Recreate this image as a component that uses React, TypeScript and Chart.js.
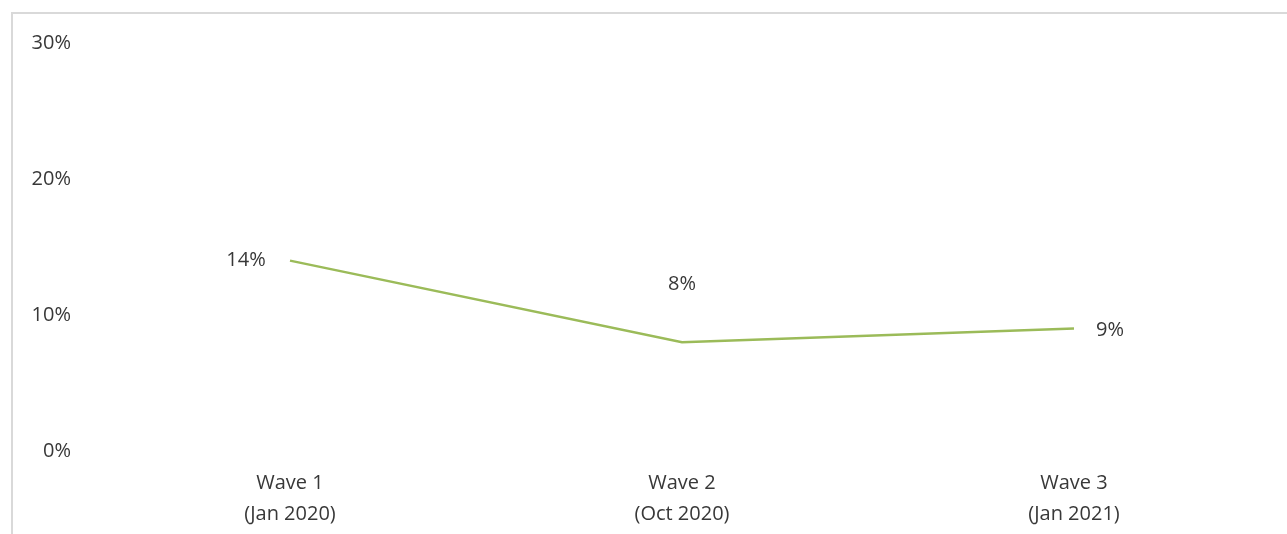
import React, { useEffect, useRef } from "react";
import { Chart, registerables } from "chart.js";

Chart.register(...registerables);

const waves: string[][] = [
  ["Wave 1", "(Jan 2020)"],
  ["Wave 2", "(Oct 2020)"],
  ["Wave 3", "(Jan 2021)"],
];
const shares: number[] = [14, 8, 9];
const yTicks: number[] = [0, 10, 20, 30];

// where each value label sits relative to its point: [dx, dy]
const labelOffsets: number[][] = [
  [-44, 0],
  [0, -58],
  [36, 2],
];

const FONT = "'Open Sans', 'DejaVu Sans', sans-serif";
const TEXT = "#383838";
const SIZE = 20;

const valueLabels = {
  id: "valueLabels",
  afterDatasetsDraw(chart: any) {
    const ctx = chart.ctx;
    const meta = chart.getDatasetMeta(0);
    ctx.save();
    ctx.font = `${SIZE}px ${FONT}`;
    ctx.fillStyle = TEXT;
    ctx.textAlign = "center";
    ctx.textBaseline = "middle";
    meta.data.forEach((pt: any, i: number) => {
      const [dx, dy] = labelOffsets[i];
      ctx.fillText(`${shares[i]}%`, pt.x + dx, pt.y + dy);
    });
    ctx.restore();
  },
};

export default function App() {
  const ref = useRef<HTMLCanvasElement | null>(null);

  useEffect(() => {
    document.body.style.margin = "0";
    if (!ref.current) return;
    const chart = new Chart(ref.current, {
      type: "line",
      data: {
        labels: waves,
        datasets: [
          {
            data: shares,
            borderColor: "#9BBB59",
            borderWidth: 2.5,
            pointRadius: 0,
            tension: 0,
            fill: false,
          },
        ],
      },
      options: {
        animation: false,
        responsive: false,
        maintainAspectRatio: false,
        layout: { padding: { top: 43, right: 17, left: 0, bottom: 0 } },
        plugins: {
          legend: { display: false },
          tooltip: { enabled: false },
        },
        scales: {
          x: {
            offset: true,
            grid: { display: false, drawTicks: false },
            border: { display: false },
            ticks: {
              color: TEXT,
              font: { family: FONT, size: SIZE, lineHeight: 1.55 },
              padding: 17,
              maxRotation: 0,
              autoSkip: false,
            },
            afterFit(scale: any) {
              scale.height = 83;
            },
          },
          y: {
            min: 0,
            max: 30,
            afterBuildTicks(scale: any) {
              scale.ticks = yTicks.map((v) => ({ value: v }));
            },
            grid: { display: false, drawTicks: false },
            border: { display: false },
            ticks: {
              color: TEXT,
              font: { family: FONT, size: SIZE },
              padding: 23,
              callback: (v: any) => `${v}%`,
            },
            afterFit(scale: any) {
              scale.width = 94;
            },
          },
        },
      },
      plugins: [valueLabels],
    });
    return () => chart.destroy();
  }, []);

  return (
    <div style={{ position: "relative", width: 1287, height: 534, background: "#fff" }}>
      <div
        style={{
          position: "absolute",
          left: 11,
          top: 12,
          right: 0,
          bottom: 0,
          borderTop: "2px solid #d9d9d9",
          borderLeft: "2px solid #d9d9d9",
        }}
      />
      <canvas ref={ref} width={1287} height={534} style={{ position: "absolute", left: 0, top: 0 }} />
    </div>
  );
}
